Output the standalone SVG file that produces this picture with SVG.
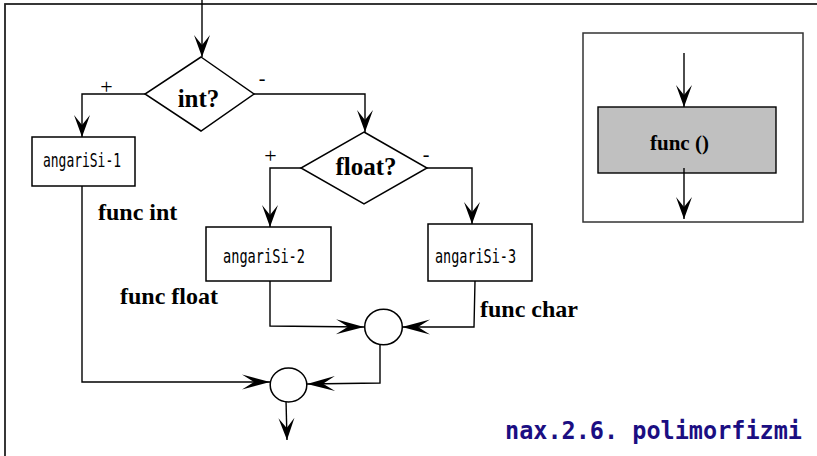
<svg xmlns="http://www.w3.org/2000/svg" width="817" height="456" viewBox="0 0 817 456">
<style>
.ln{fill:none;stroke:#000;stroke-width:1.4}
.bx{fill:#fff;stroke:#000;stroke-width:1.5}
.lbl{font-family:"Liberation Serif","Times New Roman",serif;font-weight:bold;fill:#000}
.mono{font-family:"DejaVu Sans Mono","Liberation Mono",monospace;font-size:20px;fill:#000}
.sg{font-family:"Liberation Serif",serif;fill:#000}
</style>
<defs>
<marker id="av" markerUnits="userSpaceOnUse" markerWidth="30" markerHeight="30" viewBox="0 0 30 30" refX="22" refY="8" orient="auto" overflow="visible"><path d="M22,8 L0,0 L10,8 L0,16 Z" fill="#000"/></marker>
<marker id="ah" markerUnits="userSpaceOnUse" markerWidth="30" markerHeight="30" viewBox="0 0 30 30" refX="28" refY="7.5" orient="auto" overflow="visible"><path d="M28,7.5 L0,0 L12,7.5 L0,15 Z" fill="#000"/></marker>
</defs>
<rect x="0" y="0" width="817" height="456" fill="#fff"/>
<rect x="5" y="4" width="830" height="470" fill="none" stroke="#222" stroke-width="1.8"/>

<g id="legend">
<rect x="583" y="33" width="220" height="189" fill="#fff" stroke="#333" stroke-width="1.5"/>
<rect x="598" y="107" width="178" height="66" fill="#c0c0c0" stroke="#000" stroke-width="1.4"/>
<text class="lbl" x="650" y="150" font-size="21">func ()</text>
</g>

<g id="connectors">
<path class="ln" d="M202,0 L202,57" marker-end="url(#av)"/>
<path class="ln" d="M145,94 L82,94 L82,137" marker-end="url(#av)"/>
<path class="ln" d="M254,94 L365,94 L365,132" marker-end="url(#av)"/>
<path class="ln" d="M301,168 L270,168 L270,227" marker-end="url(#av)"/>
<path class="ln" d="M427,168 L472,168 L472,224" marker-end="url(#av)"/>
<path class="ln" d="M270,281 L270,326 L364,327" marker-end="url(#ah)"/>
<path class="ln" d="M475,281 L474,327 L402,327" marker-end="url(#ah)"/>
<path class="ln" d="M380,342 L380,383 L307,384" marker-end="url(#ah)"/>
<path class="ln" d="M82,186 L82,382 L270,382" marker-end="url(#ah)"/>
<path class="ln" d="M286,400 L287,440" marker-end="url(#av)"/>
<path class="ln" d="M684,53 L684,107" marker-end="url(#av)"/>
<path class="ln" d="M684,168 L684,219" marker-end="url(#av)"/>
</g>

<g id="int">
<polygon class="bx" points="201,57 254,94 201,131 145,94"/>
<text class="lbl" x="198.5" y="107" font-size="25" text-anchor="middle">int?</text>
</g>
<text class="sg" x="106.5" y="93.5" font-size="22" text-anchor="middle">+</text>
<text class="sg" x="262" y="85" font-size="20" text-anchor="middle">-</text>

<g id="float">
<polygon class="bx" points="364,132 427,168 364,204 301,168"/>
<text class="lbl" x="366" y="175" font-size="25" text-anchor="middle">float?</text>
</g>
<text class="sg" x="270.5" y="162.5" font-size="22" text-anchor="middle">+</text>
<text class="sg" x="426" y="161" font-size="20" text-anchor="middle">-</text>

<g id="box1">
<rect class="bx" x="32" y="137" width="103" height="49"/>
<text class="mono" x="43" y="167" textLength="78" lengthAdjust="spacingAndGlyphs">angariSi-1</text>
</g>
<g id="box2">
<rect class="bx" x="206" y="227" width="125" height="54"/>
<text class="mono" x="223" y="263" textLength="82" lengthAdjust="spacingAndGlyphs">angariSi-2</text>
</g>
<g id="box3">
<rect class="bx" x="428" y="224" width="104" height="57"/>
<text class="mono" x="435" y="263" textLength="81" lengthAdjust="spacingAndGlyphs">angariSi-3</text>
</g>

<g id="merge1"><ellipse class="bx" cx="383.5" cy="327" rx="18.8" ry="17.8"/></g>
<g id="merge2"><ellipse class="bx" cx="288.5" cy="385" rx="18.3" ry="17"/></g>

<text class="lbl" x="98" y="220" font-size="24">func int</text>
<text class="lbl" x="120" y="304" font-size="24">func float</text>
<text class="lbl" x="480" y="317" font-size="24">func char</text>

<text x="505" y="439" font-family="DejaVu Sans Mono,Liberation Mono,monospace" font-weight="bold" font-size="24" fill="#1b0e82" textLength="297" lengthAdjust="spacingAndGlyphs">nax.2.6. polimorfizmi</text>
</svg>
